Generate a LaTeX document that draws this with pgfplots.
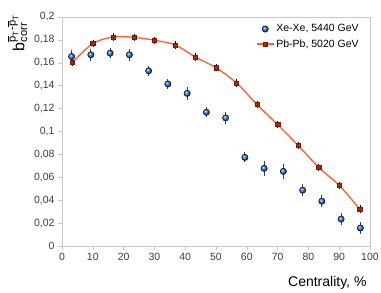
\documentclass[border=0pt]{standalone}
\usepackage{fontspec}
\setmainfont{Liberation Sans}
\usepackage{amsmath}
\usepackage{pgfplots}
\pgfplotsset{compat=1.18}
\definecolor{xeblue}{RGB}{45,115,230}
\definecolor{pbline}{RGB}{255,90,55}
\definecolor{pbmark}{RGB}{165,40,10}
\definecolor{axgray}{RGB}{200,200,200}
\definecolor{lblgray}{RGB}{60,60,60}
\begin{document}
\begin{tikzpicture}
\begin{axis}[
  scale only axis, width=308bp, height=229bp,
  xmin=0, xmax=100, ymin=0, ymax=0.2,
  xtick={0,10,20,30,40,50,60,70,80,90,100},
  xticklabels={0,10,20,30,40,50,60,70,80,90,100},
  ytick={0,0.02,0.04,0.06,0.08,0.1,0.12,0.14,0.16,0.18,0.2},
  yticklabels={0,{0,02},{0,04},{0,06},{0,08},{0,1},{0,12},{0,14},{0,16},{0,18},{0,2}},
  scaled ticks=false,
  axis line style={axgray},
  tick style={axgray, line width=0.6pt},
  tick align=outside, major tick length=4bp,
  xtick pos=bottom, ytick pos=left,
  tick label style={font=\fontsize{10.5bp}{12bp}\selectfont, text=lblgray},
  xlabel={Centrality, \%},
  xlabel style={font=\fontsize{14bp}{16bp}\selectfont, at={(axis description cs:1,-0.16)}, anchor=east},
  every axis y label/.style={at={(axis description cs:-0.145,0.93)}, anchor=center, rotate=90,
    font=\fontsize{16bp}{18bp}\selectfont},
  ylabel={b$_{\textrm{corr}}^{\overline{\textrm{p}}_{\textrm{T}}\textrm{-}\overline{\textrm{p}}_{\textrm{T}}}$},
  legend style={draw=none, fill=none, at={(axis description cs:0.98,0.985)}, anchor=north east,
    font=\fontsize{10.5bp}{12bp}\selectfont, row sep=2bp},
  legend cell align=left,
]
\addplot[only marks, mark=ball, mark size=3.2bp, ball color=xeblue,
  error bars/.cd, y dir=both, y explicit, error bar style={black!75, line width=0.9pt}, error mark options={black!75, mark size=1.6bp, line width=0.9pt}]
  table[x=x, y=y, y error=e] {
x y e
3.125 0.1655 0.004
9.375 0.167 0.004
15.625 0.1684 0.003
21.875 0.167 0.004
28.125 0.153 0.003
34.375 0.1415 0.003
40.625 0.1333 0.004
46.875 0.1168 0.003
53.125 0.1119 0.004
59.375 0.0774 0.003
65.625 0.0678 0.005
71.875 0.0652 0.005
78.125 0.0487 0.004
84.375 0.0391 0.004
90.625 0.0235 0.004
96.875 0.0157 0.004
};
\addlegendentry{Xe-Xe, 5440 GeV}
\addplot[pbline, line width=1.3pt, smooth, mark=square*, mark size=2.1bp,
  mark options={fill=pbmark, draw=pbmark!70!black, line width=0.4pt},
  error bars/.cd, y dir=both, y explicit, error bar style={black, line width=0.7pt}, error mark options={black, mark size=1.4bp}]
  table[x=x, y=y, y error=e] {
x y e
3.333 0.1603 0.002
10 0.1768 0.002
16.667 0.1826 0.002
23.333 0.1823 0.002
30 0.1797 0.002
36.667 0.1757 0.002
43.333 0.165 0.002
50 0.1557 0.002
56.667 0.1424 0.002
63.333 0.1235 0.002
70 0.1061 0.002
76.667 0.0878 0.002
83.333 0.0687 0.002
90 0.053 0.002
96.667 0.0322 0.002
};
\addlegendentry{Pb-Pb, 5020 GeV}
\end{axis}
\pgfresetboundingbox
\path (-62bp,-47bp) rectangle (319bp,246bp);
\end{tikzpicture}
\end{document}
